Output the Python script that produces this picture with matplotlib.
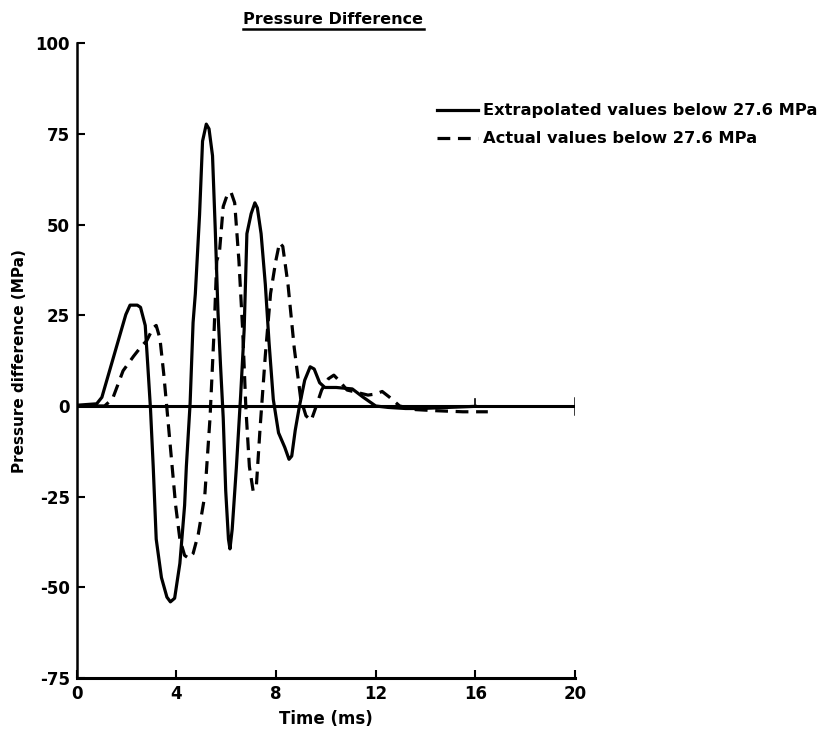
import matplotlib
matplotlib.use("Agg")
import matplotlib.pyplot as plt
from matplotlib.lines import Line2D

# Extrapolated values below 27.6 MPa (solid)
t_extrap = [0.0, 0.8, 1.01, 1.44, 1.97, 2.14, 2.43, 2.56, 2.75, 2.85, 2.96, 3.07, 3.19,
            3.40, 3.62, 3.76, 3.93, 4.14, 4.33, 4.40, 4.55, 4.67, 4.76, 4.93, 5.05, 5.20,
            5.31, 5.45, 5.56, 5.67, 5.77, 5.88, 5.98, 6.09, 6.15, 6.24, 6.41, 6.58, 6.72,
            6.83, 7.0, 7.15, 7.25, 7.40, 7.57, 7.72, 7.89, 8.10, 8.35, 8.52, 8.63, 8.77,
            8.94, 9.15, 9.37, 9.53, 9.75, 9.96, 10.42, 11.06, 11.48, 12.0, 12.5, 13.2,
            13.8, 14.9, 16.0]
p_extrap = [0.2, 0.6, 2.4, 12.6, 25.2, 27.8, 27.8, 27.2, 22.2, 11.4, -0.7, -16.7, -36.7,
            -47.3, -52.7, -54.0, -53.0, -43.4, -27.4, -16.7, 0.6, 23.0, 30.9, 52.7, 73.0,
            77.7, 76.4, 69.0, 48.7, 25.9, 11.4, -3.3, -23.4, -36.7, -39.4, -34.0, -16.7,
            3.0, 21.0, 47.5, 53.0, 56.0, 54.6, 47.5, 33.5, 17.4, 1.8, -7.4, -11.4, -14.7,
            -13.8, -6.7, 0.0, 7.1, 10.8, 10.2, 6.4, 5.1, 5.1, 4.7, 2.5, 0.0, -0.4, -0.7,
            -0.7, -0.4, -0.1]

# Actual values below 27.6 MPa (dashed)
t_actual = [0.0, 1.12, 1.44, 1.86, 2.28, 2.6, 2.81, 3.07, 3.19, 3.34, 3.49, 3.62, 3.76,
            3.97, 4.14, 4.33, 4.50, 4.67, 4.88, 5.14, 5.35, 5.52, 5.62, 5.73, 5.88, 6.03,
            6.19, 6.34, 6.51, 6.66, 6.79, 6.93, 7.08, 7.21, 7.36, 7.57, 7.78, 7.99, 8.14,
            8.27, 8.48, 8.73, 8.99, 9.20, 9.41, 9.58, 9.83, 10.1, 10.32, 10.53, 10.85,
            11.27, 11.69, 12.0, 12.26, 12.54, 12.96, 13.6, 14.4, 15.5, 16.5]
p_actual = [0.0, 0.0, 2.0, 9.7, 13.7, 16.5, 18.0, 21.6, 22.2, 18.6, 9.0, -0.7, -11.4,
            -27.4, -36.7, -41.2, -42.0, -40.7, -35.3, -24.7, -3.3, 21.7, 40.0, 42.5, 55.0,
            58.0, 59.0, 56.0, 40.0, 21.0, -0.7, -16.7, -23.4, -22.1, -6.0, 14.0, 31.0,
            40.0, 45.0, 44.0, 33.5, 16.0, 2.0, -2.7, -4.0, -0.7, 4.4, 7.5, 8.5, 7.0, 4.4,
            3.7, 3.0, 3.3, 4.0, 2.5, 0.0, -1.0, -1.3, -1.6, -1.6]

x_ticks = [0, 4, 8, 12, 16, 20]
y_ticks = [-75, -50, -25, 0, 25, 50, 75, 100]

plt.rcParams["font.family"] = "DejaVu Sans"
plt.rcParams["font.weight"] = "bold"
plt.rcParams["axes.unicode_minus"] = False

dash = (0, (4, 2.4))

fig = plt.figure(figsize=(8.25, 7.33), dpi=100)
ax = fig.add_axes([0.093, 0.075, 0.604, 0.866])

ax.plot(t_extrap, p_extrap, color="black", linewidth=2.3, solid_joinstyle="round")
ax.plot(t_actual, p_actual, color="black", linewidth=2.3, linestyle=dash)

# zero line with end marks
ax.plot([0, 20], [0, 0], color="black", linewidth=2.2)
ax.plot([20, 20], [-2.2, 2.2], color="black", linewidth=1.8)
ax.plot([16, 16], [0, 1.8], color="black", linewidth=1.2)

ax.set_xlim(0, 20)
ax.set_ylim(-75, 100)
ax.set_xticks(x_ticks)
ax.set_yticks(y_ticks)
ax.tick_params(direction="in", length=6, width=1.5, labelsize=12)
ax.tick_params(axis="x", pad=5)
ax.tick_params(axis="y", pad=5)
for lab in ax.get_xticklabels() + ax.get_yticklabels():
    lab.set_fontweight("bold")
ax.spines["top"].set_visible(False)
ax.spines["right"].set_visible(False)
ax.spines["left"].set_linewidth(1.8)
ax.spines["bottom"].set_linewidth(2.2)

ax.set_xlabel("Time (ms)", fontsize=12, fontweight="bold", labelpad=5)
ax.set_ylabel("Pressure difference (MPa)", fontsize=11, fontweight="bold", labelpad=6)

# underlined title
fig.text(0.404, 0.973, "Pressure Difference", ha="center", va="center",
         fontsize=11.5, fontweight="bold")
fig.add_artist(Line2D([0.295, 0.514], [0.960, 0.960], color="black", linewidth=1.8))

# legend
handles = [Line2D([], [], color="black", linewidth=2.3),
           Line2D([], [], color="black", linewidth=2.3, linestyle=dash)]
labels = ["Extrapolated values below 27.6 MPa", "Actual values below 27.6 MPa"]
fig.legend(handles, labels, loc="upper left", bbox_to_anchor=(0.512, 0.879),
           frameon=False, handlelength=2.5, handletextpad=0.35,
           labelspacing=0.8, prop={"weight": "bold", "size": 11.7})

fig.savefig("out.png", dpi=100)
